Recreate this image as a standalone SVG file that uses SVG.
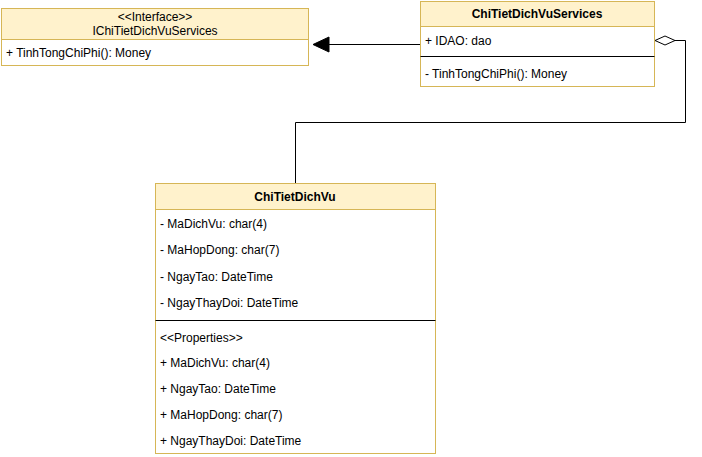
<svg xmlns="http://www.w3.org/2000/svg" width="702" height="457" viewBox="0 0 702 457">
<style>
.hdr{fill:#fff2cc;stroke:#d6b656;stroke-width:1}
.body{fill:#ffffff;stroke:#d6b656;stroke-width:1}
.sep{stroke:#000;stroke-width:1}
text{font-family:"Liberation Sans",Arial,sans-serif;font-size:12px;fill:#000}
.b{font-weight:bold}
.c{text-anchor:middle}
.edge{fill:none;stroke:#000;stroke-width:1}
</style>
<rect width="702" height="457" fill="#fff"/>
<g id="IChiTietDichVuServices">
<rect class="body" x="1.5" y="8.5" width="307" height="57"/>
<rect class="hdr" x="1.5" y="8.5" width="307" height="31"/>
<text class="c" x="155" y="21">&lt;&lt;Interface&gt;&gt;</text>
<text class="c" x="155" y="35">IChiTietDichVuServices</text>
<text x="6" y="57">+ TinhTongChiPhi(): Money</text>
</g>
<g id="ChiTietDichVuServices">
<rect class="body" x="420.5" y="1.5" width="234" height="85"/>
<rect class="hdr" x="420.5" y="1.5" width="234" height="25"/>
<text class="c b" x="537" y="18">ChiTietDichVuServices</text>
<text x="425" y="45">+ IDAO: dao</text>
<line class="sep" x1="420.5" y1="56.5" x2="654.5" y2="56.5"/>
<text x="425" y="78">- TinhTongChiPhi(): Money</text>
</g>
<g id="ChiTietDichVu">
<rect class="body" x="155.5" y="183.5" width="280" height="270"/>
<rect class="hdr" x="155.5" y="183.5" width="280" height="26"/>
<text class="c b" x="295" y="201">ChiTietDichVu</text>
<text x="160" y="228">- MaDichVu: char(4)</text>
<text x="160" y="254">- MaHopDong: char(7)</text>
<text x="160" y="281">- NgayTao: DateTime</text>
<text x="160" y="307">- NgayThayDoi: DateTime</text>
<line class="sep" x1="155.5" y1="320.5" x2="435.5" y2="320.5"/>
<text x="160" y="342">&lt;&lt;Properties&gt;&gt;</text>
<text x="160" y="367">+ MaDichVu: char(4)</text>
<text x="160" y="393">+ NgayTao: DateTime</text>
<text x="160" y="419">+ MaHopDong: char(7)</text>
<text x="160" y="445">+ NgayThayDoi: DateTime</text>
</g>
<g id="connectors">
<path class="edge" d="M420,44.5 L328,44.5"/>
<path d="M313,44.5 L329,37 L329,52 Z" fill="#000" stroke="#000"/>
<path class="edge" d="M675,40.5 L685.5,40.5 L685.5,122.5 L295.5,122.5 L295.5,183"/>
<path d="M655,40.5 L665,36 L675,40.5 L665,45 Z" fill="#fff" stroke="#000"/>
</g>
</svg>
